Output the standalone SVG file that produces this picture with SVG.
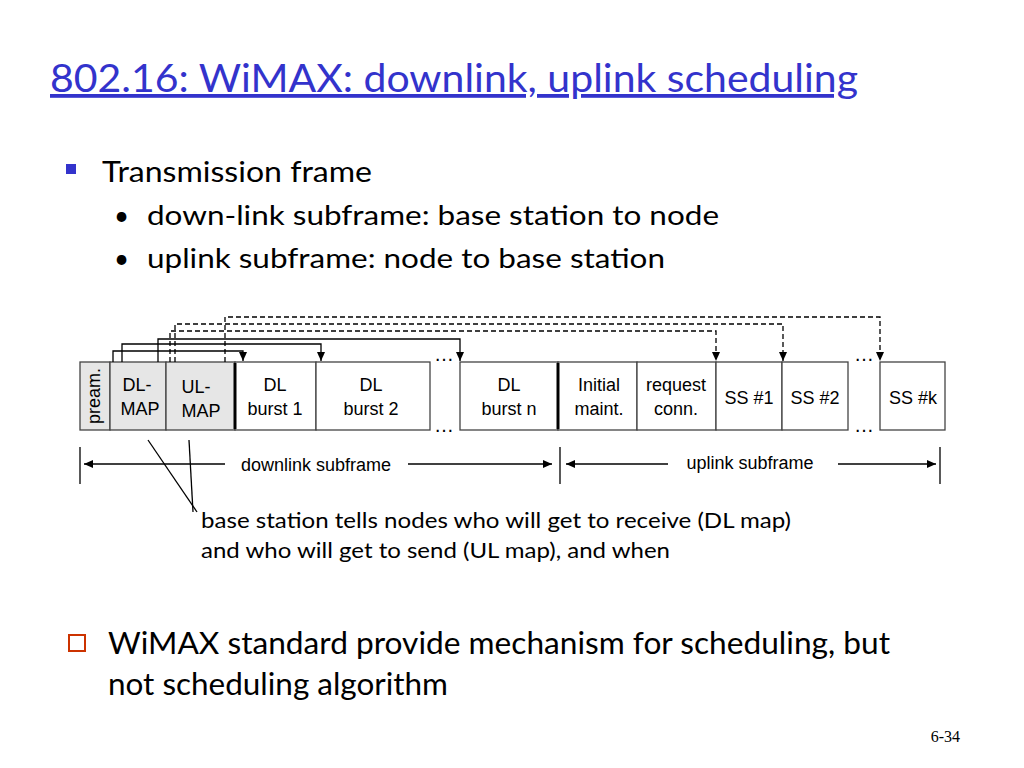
<svg xmlns="http://www.w3.org/2000/svg" width="1024" height="768" viewBox="0 0 1024 768">
<defs>
<style>
.t{font-family:"Lato","Liberation Sans",sans-serif;fill:#000}
.a{font-family:"Liberation Sans",Arial,sans-serif;font-size:18px;fill:#000;text-anchor:middle}
.b{fill:#fff;stroke:#444;stroke-width:1.3}
.g{fill:#e6e6e6;stroke:#444;stroke-width:1.3}
.ln{fill:none;stroke:#000;stroke-width:1.3}
.ds{fill:none;stroke:#000;stroke-width:1.3;stroke-dasharray:5,3}
</style>
<marker id="ar" markerWidth="10" markerHeight="10" refX="9" refY="5" orient="auto" markerUnits="userSpaceOnUse"><path d="M0,1 L9,5 L0,9 z" fill="#000"/></marker>
</defs>
<rect width="1024" height="768" fill="#fff"/>
<text x="50" y="92" font-family="Lato,'Liberation Sans',sans-serif" font-size="38" fill="#3333cc" text-decoration="underline" textLength="808" lengthAdjust="spacingAndGlyphs">802.16: WiMAX: downlink, uplink scheduling</text>
<rect x="66" y="164" width="10" height="10" fill="#3333cc"/>
<text class="t" x="102" y="182" font-size="29" textLength="270" lengthAdjust="spacingAndGlyphs">Transmission frame</text>
<text class="t" x="114" y="225" font-size="26">•</text>
<text class="t" x="147" y="225" font-size="27" textLength="572" lengthAdjust="spacingAndGlyphs">down-link subframe: base station to node</text>
<text class="t" x="114" y="268" font-size="26">•</text>
<text class="t" x="147" y="268" font-size="27" textLength="518" lengthAdjust="spacingAndGlyphs">uplink subframe: node to base station</text>
<g id="frame">
<g id="pream"><rect class="g" x="80" y="362" width="30" height="68"/><text class="a" transform="translate(100,396) rotate(-90)" font-size="15">pream.</text></g>
<g id="dlmap"><rect class="g" x="110" y="362" width="56" height="68"/><text class="a" x="137" y="391">DL-</text><text class="a" x="140" y="415">MAP</text></g>
<g id="ulmap"><rect class="g" x="166" y="362" width="69" height="68"/><text class="a" x="196" y="393">UL-</text><text class="a" x="201" y="417">MAP</text></g>
<g id="dl1"><rect class="b" x="235" y="362" width="81" height="68"/><text class="a" x="275" y="391">DL</text><text class="a" x="275" y="415">burst 1</text></g>
<g id="dl2"><rect class="b" x="316" y="362" width="114" height="68"/><text class="a" x="371" y="391">DL</text><text class="a" x="371" y="415">burst 2</text></g>
<g id="dln"><rect class="b" x="460" y="362" width="98" height="68"/><text class="a" x="509" y="391">DL</text><text class="a" x="509" y="415">burst n</text></g>
<g id="init"><rect class="b" x="558" y="362" width="79" height="68"/><text class="a" x="599" y="391">Initial</text><text class="a" x="599" y="415">maint.</text></g>
<g id="req"><rect class="b" x="637" y="362" width="79" height="68"/><text class="a" x="676" y="391">request</text><text class="a" x="676" y="415">conn.</text></g>
<g id="ss1"><rect class="b" x="716" y="362" width="66" height="68"/><text class="a" x="749" y="404">SS #1</text></g>
<g id="ss2"><rect class="b" x="782" y="362" width="66" height="68"/><text class="a" x="815" y="404">SS #2</text></g>
<g id="ssk"><rect class="b" x="880" y="362" width="65" height="68"/><text class="a" x="913" y="404">SS #k</text></g>
<line x1="235" y1="363" x2="235" y2="429" stroke="#000" stroke-width="3"/>
<line x1="558" y1="363" x2="558" y2="429" stroke="#000" stroke-width="3"/>
</g>
<g id="dots" font-family="Liberation Sans,sans-serif" font-size="20" fill="#000">
<text x="434" y="361">…</text><text x="434" y="432">…</text>
<text x="854" y="361">…</text><text x="854" y="432">…</text>
</g>
<g id="connectors">
<path class="ln" d="M113,362 V351 H243 V361" marker-end="url(#ar)"/>
<path class="ln" d="M122,362 V344 H321 V361" marker-end="url(#ar)"/>
<path class="ln" d="M158,362 V339 H460 V361" marker-end="url(#ar)"/>
<path class="ds" d="M170,362 V331 H716 V361" marker-end="url(#ar)"/>
<path class="ds" d="M175,362 V324 H783 V361" marker-end="url(#ar)"/>
<path class="ds" d="M225,362 V317 H880 V361" marker-end="url(#ar)"/>
<line class="ln" x1="80" y1="447" x2="80" y2="484"/>
<line class="ln" x1="560" y1="447" x2="560" y2="484"/>
<line class="ln" x1="940" y1="447" x2="940" y2="484"/>
<line class="ln" x1="225" y1="464" x2="84" y2="464" marker-end="url(#ar)"/>
<line class="ln" x1="408" y1="464" x2="552" y2="464" marker-end="url(#ar)"/>
<line class="ln" x1="668" y1="464" x2="566" y2="464" marker-end="url(#ar)"/>
<line class="ln" x1="838" y1="464" x2="936" y2="464" marker-end="url(#ar)"/>
<line class="ln" x1="148" y1="440" x2="197" y2="512"/>
<line class="ln" x1="189" y1="440" x2="193" y2="512"/>
</g>
<text class="a" x="316" y="471">downlink subframe</text>
<text class="a" x="750" y="469">uplink subframe</text>
<text class="t" x="201" y="528" font-size="22" textLength="590" lengthAdjust="spacingAndGlyphs">base station tells nodes who will get to receive (DL map)</text>
<text class="t" x="201" y="558" font-size="22" textLength="469" lengthAdjust="spacingAndGlyphs">and who will get to send (UL map), and when</text>
<rect x="69" y="635" width="16" height="16" fill="none" stroke="#cc3300" stroke-width="2"/>
<text class="t" x="108" y="654" font-size="30" textLength="782" lengthAdjust="spacingAndGlyphs">WiMAX standard provide mechanism for scheduling, but</text>
<text class="t" x="108" y="695" font-size="30" textLength="340" lengthAdjust="spacingAndGlyphs">not scheduling algorithm</text>
<text x="960" y="742" font-family="Liberation Serif,serif" font-size="16" text-anchor="end">6-34</text>
</svg>
